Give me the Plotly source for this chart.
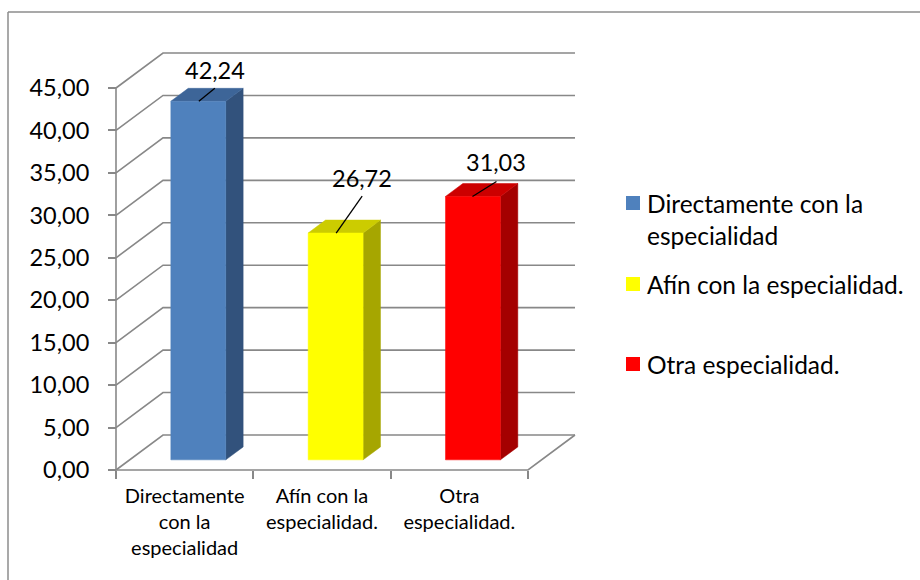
import plotly.graph_objects as go

# ---------------- data ----------------
categories = ["Directamente con la especialidad", "Afín con la especialidad.", "Otra especialidad."]
values = [42.24, 26.72, 31.03]
value_labels = ["42,24", "26,72", "31,03"]
axis_category_labels = ["Directamente<br>con la<br>especialidad", "Afín con la<br>especialidad.", "Otra<br>especialidad."]
legend_labels = ["Directamente con la<br>especialidad", "Afín con la especialidad.", "Otra especialidad."]
tick_values = [0, 5, 10, 15, 20, 25, 30, 35, 40, 45]
tick_labels = ["0,00", "5,00", "10,00", "15,00", "20,00", "25,00", "30,00", "35,00", "40,00", "45,00"]

# ---------------- style / layout ----------------
W, H = 920, 580
X0PX, UX = 116, 137.33     # pixel of category 0, px per category unit
Y0PX, UY = 470, 8.489      # pixel of value 0 (front plane), px per value unit
DX, DY = 47 / UX, 35 / UY  # full depth offset in data units
F0, F1 = 0.29, 0.66        # bar depth start / end
BAR_L, BAR_R = 0.30, 0.70  # bar extent inside category slot
FONT = "Lato"
GRID = "#888888"
NUM_SIZE = 23.5
CAT_SIZE = 20
LEG_SIZE = 24.5

front_colors = ["#4F81BD", "#FFFF00", "#FF0000"]
top_colors = ["#3D6598", "#CCCC00", "#CC0000"]
side_colors = ["#32527C", "#A6A600", "#A40000"]
# leader line (start, end) and label centre, px offsets from bar's front top-left corner
leader_px = [((28, 0), (44, -13), (44, -31)),
             ((28, 0), (54, -37), (54, -55)),
             ((27, 0), (51, -15), (51, -34))]

def P(x, v, f):
    return x + f * DX, v + f * DY

fig = go.Figure()

def line(pts, color=GRID, width=1.6):
    xs = [p[0] for p in pts]
    ys = [p[1] for p in pts]
    fig.add_trace(go.Scatter(x=xs, y=ys, mode="lines", line=dict(color=color, width=width),
                             hoverinfo="skip", showlegend=False))

def poly(pts, color):
    xs = [p[0] for p in pts] + [pts[0][0]]
    ys = [p[1] for p in pts] + [pts[0][1]]
    fig.add_trace(go.Scatter(x=xs, y=ys, mode="lines", fill="toself", fillcolor=color,
                             line=dict(color=color, width=0.5), hoverinfo="skip", showlegend=False))

n = len(categories)
# back wall gridlines + side wall diagonals
for v in tick_values:
    line([P(0, v, 0), P(0, v, 1), P(n, v, 1)])
# floor right edge and front edge
line([P(0, 0, 0), P(n, 0, 0), P(n, 0, 1)])
# front vertical axis
line([P(0, 0, 0), P(0, tick_values[-1], 0)])

# bars
for i, v in enumerate(values):
    xl, xr = i + BAR_L, i + BAR_R
    poly([P(xr, 0, F0), P(xr, 0, F1), P(xr, v, F1), P(xr, v, F0)], side_colors[i])
    poly([P(xl, v, F0), P(xr, v, F0), P(xr, v, F1), P(xl, v, F1)], top_colors[i])
    poly([P(xl, 0, F0), P(xr, 0, F0), P(xr, v, F0), P(xl, v, F0)], front_colors[i])
    # data label with leader line
    bx, by = P(xl, v, F0)
    (s, e, c) = leader_px[i]
    line([(bx + s[0] / UX, by - s[1] / UY), (bx + e[0] / UX, by - e[1] / UY)], color="#000000", width=1.3)
    fig.add_annotation(x=bx + c[0] / UX, y=by - c[1] / UY, text=value_labels[i], showarrow=False,
                       xanchor="center", yanchor="middle", font=dict(family=FONT, size=NUM_SIZE, color="#000"))

# legend (manual, Excel-like spacing)
leg_y = [219.5, 284, 364]
sq_y = [203, 284, 364]
for i in range(n):
    fig.add_shape(type="rect", xref="paper", yref="paper",
                  x0=626 / W, x1=640 / W, y0=1 - (sq_y[i] + 7) / H, y1=1 - (sq_y[i] - 7) / H,
                  fillcolor=front_colors[i], line=dict(width=0))
    fig.add_annotation(xref="paper", yref="paper", x=645 / W, y=1 - leg_y[i] / H, text=legend_labels[i],
                       showarrow=False, xanchor="left", yanchor="middle", align="left",
                       font=dict(family=FONT, size=LEG_SIZE, color="#000"))

# outer chart border
fig.add_shape(type="line", xref="paper", yref="paper", x0=8 / W, x1=1, y0=1 - 12 / H, y1=1 - 12 / H,
              line=dict(color="#8C8C8C", width=1.5))
fig.add_shape(type="line", xref="paper", yref="paper", x0=8 / W, x1=8 / W, y0=0, y1=1 - 12 / H,
              line=dict(color="#8C8C8C", width=1.5))

fig.update_layout(
    width=W, height=H, autosize=False,
    margin=dict(l=0, r=0, t=0, b=0, pad=0),
    paper_bgcolor="white", plot_bgcolor="white",
    showlegend=False,
    xaxis=dict(range=[-X0PX / UX, (W - X0PX) / UX], showgrid=False, zeroline=False, showline=False,
               anchor="free", position=1 - Y0PX / H,
               tickmode="array", tickvals=[i + 0.5 for i in range(n)], ticktext=axis_category_labels,
               ticks="", tickfont=dict(family=FONT, size=CAT_SIZE, color="#000"), ticklabelstandoff=12,
               minor=dict(tickmode="array", tickvals=list(range(n + 1)), ticks="outside", ticklen=8,
                          tickwidth=1.5, tickcolor=GRID, showgrid=False),
               fixedrange=True),
    yaxis=dict(range=[(Y0PX - H) / UY, Y0PX / UY], showgrid=False, zeroline=False, showline=False,
               anchor="free", position=X0PX / W,
               tickmode="array", tickvals=tick_values, ticktext=tick_labels,
               ticks="outside", ticklen=8, tickwidth=1.5, tickcolor=GRID,
               tickfont=dict(family=FONT, size=NUM_SIZE, color="#000"), ticklabelstandoff=14,
               fixedrange=True),
)

fig.write_html("out.html", config={"displayModeBar": False},
               post_script="document.body.style.margin='0px';document.body.style.overflow='hidden';")
